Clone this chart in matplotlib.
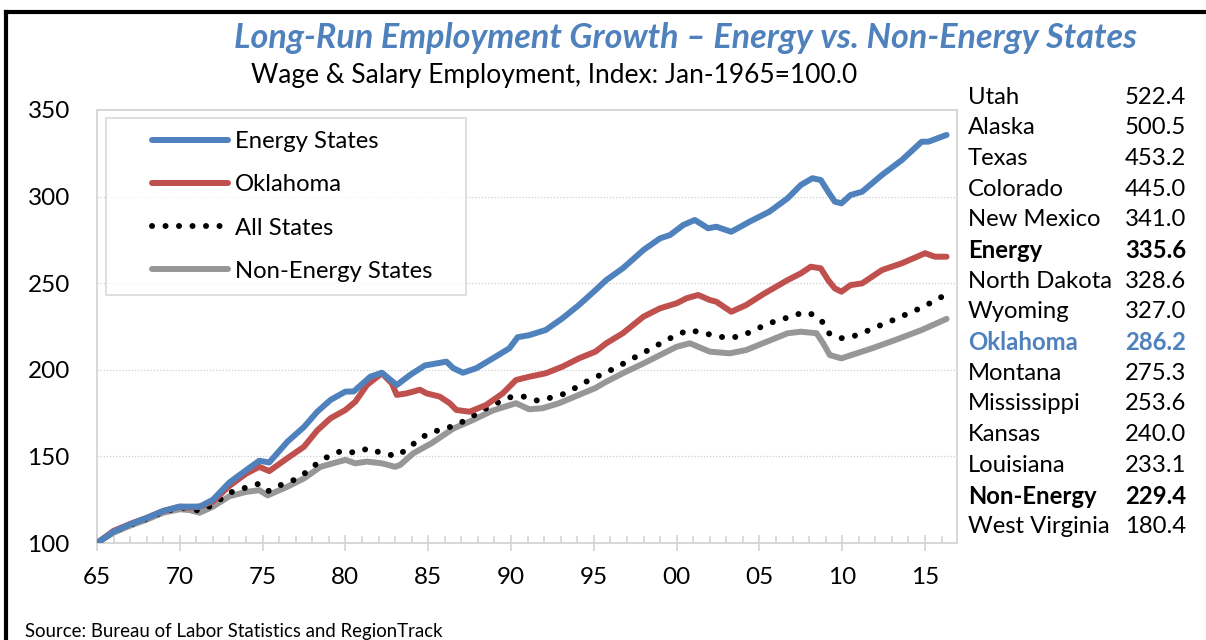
import matplotlib
matplotlib.use("Agg")
import matplotlib.pyplot as plt
from matplotlib.lines import Line2D
from matplotlib.legend_handler import HandlerLine2D

plt.rcParams['font.family'] = ['Lato', 'DejaVu Sans']

# readings (year, index value)
energy_x = [1965.0, 1966.0, 1967.0, 1968.0, 1969.0, 1970.0, 1970.6, 1971.2, 1972.0, 1973.0,
            1974.0, 1974.8, 1975.4, 1976.5, 1977.5, 1978.3, 1979.1, 1980.0, 1980.5, 1981.5,
            1982.2, 1983.1, 1983.9, 1984.8, 1986.1, 1986.5, 1987.1, 1987.9, 1988.9, 1989.9,
            1990.4, 1991.1, 1992.1, 1993.1, 1994.1, 1995.1, 1995.75, 1996.75, 1998.0, 1999.0,
            1999.6, 2000.4, 2001.1, 2001.9, 2002.4, 2003.3, 2004.4, 2005.6, 2006.7, 2007.5,
            2008.2, 2008.7, 2009.15, 2009.55, 2009.95, 2010.5, 2011.2, 2012.4, 2013.6, 2014.8,
            2015.2, 2016.3]
energy_y = [100, 106.5, 110.8, 114.5, 118.5, 121, 121, 121, 125, 135,
            142, 147.5, 146.5, 158.5, 167, 175.8, 182.6, 187.4, 187.5, 196,
            198.3, 191.2, 197, 202.5, 204.7, 201, 198.3, 200.9, 206.6, 212.4,
            218.8, 220, 223, 229.7, 237.4, 246, 251.8, 258.6, 269.2, 275.9,
            277.8, 283.6, 286.5, 281.7, 282.6, 279.7, 285.5, 291.3, 299, 306.7,
            310.6, 309.6, 302.8, 297.1, 296.1, 300.9, 302.8, 312.5, 321.1, 331.7,
            331.7, 335.6]

ok_x = [1965.0, 1966.0, 1967.0, 1968.0, 1969.0, 1970.0, 1970.6, 1971.2, 1972.0, 1973.0,
        1974.0, 1974.8, 1975.4, 1976.5, 1977.5, 1978.3, 1979.1, 1980.0, 1980.6, 1981.3,
        1982.2, 1982.8, 1983.1, 1983.7, 1984.5, 1984.9, 1985.7, 1986.3, 1986.7, 1987.5,
        1988.5, 1989.5, 1990.3, 1991.1, 1992.1, 1993.1, 1994.1, 1995.1, 1995.75, 1996.75,
        1998.0, 1999.0, 2000.0, 2000.6, 2001.3, 2002.0, 2002.4, 2003.3, 2004.2, 2005.2,
        2006.7, 2007.5, 2008.1, 2008.7, 2009.15, 2009.55, 2009.95, 2010.5, 2011.2, 2012.4,
        2013.6, 2015.0, 2015.6, 2016.3]
ok_y = [100, 107, 111, 114.5, 118.5, 121, 120.5, 121, 124, 133,
        140, 144, 141.5, 149, 155.6, 165, 172, 176.8, 181.6, 191.2,
        198, 192.2, 185.5, 186.4, 188.5, 186.4, 184.5, 180.7, 176.8, 175.8,
        179.7, 186.4, 194.1, 196, 198, 201.8, 206.6, 210.5, 215.3, 221.1,
        230.7, 235.5, 238.4, 241.3, 243.2, 240.3, 239.3, 233.5, 237.4, 243.5,
        251.8, 255.7, 259.5, 258.6, 251.8, 247, 245.1, 248.9, 249.9, 257.6,
        261.5, 267.3, 265.3, 265.3]

all_x = [1965.0, 1966.0, 1967.0, 1968.0, 1969.0, 1970.0, 1970.6, 1971.2, 1972.0, 1973.0,
         1974.0, 1974.7, 1975.3, 1976.1, 1976.9, 1977.6, 1978.3, 1979.0, 1979.8, 1980.6,
         1981.4, 1982.2, 1983.1, 1983.8, 1984.5, 1985.2, 1986.1, 1986.9, 1987.7, 1988.4,
         1989.2, 1989.9, 1990.8, 1991.6, 1992.5, 1993.3, 1994.0, 1994.8, 1995.55, 1996.26,
         1997.0, 1997.8, 1998.5, 1999.2, 2000.0, 2000.75, 2001.55, 2002.4, 2003.2, 2004.05,
         2004.8, 2005.55, 2006.4, 2007.2, 2008.0, 2008.75, 2009.2, 2009.9, 2010.6, 2011.4,
         2012.2, 2013.0, 2014.6, 2015.35, 2016.1]
all_y = [100, 106.5, 110.5, 114, 118, 120.5, 120, 118.5, 122, 129,
         132, 134, 129.8, 133.5, 136.4, 140.6, 146, 150.2, 153.3, 152.1,
         154.7, 151.8, 150.2, 154.7, 160.4, 164, 166.2, 169.1, 173.3, 177.2,
         181, 184.1, 184.5, 182.2, 184.1, 186.4, 190.2, 194.5, 197.6, 200.9,
         204.7, 208.9, 212.4, 216.2, 220.1, 223, 221.4, 219.5, 218.2, 220.1,
         223.4, 226.8, 229.2, 232, 233, 228.4, 221.1, 218.2, 219.1, 222,
         225.3, 228.4, 235.1, 238.7, 242.6]

non_x = [1965.0, 1966.0, 1967.0, 1968.0, 1969.0, 1970.0, 1970.6, 1971.2, 1972.0, 1973.0,
         1974.0, 1974.8, 1975.3, 1976.5, 1977.5, 1978.5, 1980.0, 1980.6, 1981.3, 1982.2,
         1983.0, 1983.3, 1984.1, 1985.2, 1986.5, 1987.7, 1988.9, 1990.3, 1991.1, 1991.9,
         1992.9, 1994.1, 1995.1, 1995.75, 1996.75, 1998.0, 1999.0, 2000.0, 2000.8, 2002.0,
         2003.2, 2004.2, 2005.2, 2005.7, 2006.7, 2007.5, 2008.45, 2008.85, 2009.25, 2009.95,
         2010.55, 2011.8, 2013.2, 2014.8, 2016.3]
non_y = [100, 106, 110, 113.5, 117.5, 119.5, 119, 117.5, 121, 127,
         129.5, 130.5, 127.5, 132.5, 137.3, 144, 148, 146, 147, 146,
         144, 145, 151.8, 157.6, 166, 171, 176.5, 180.7, 177.2, 177.8,
         180.7, 185.5, 189.5, 193.1, 198, 203.7, 208.5, 213.3, 215.3, 210.5,
         209.5, 211.4, 215.3, 217.2, 221.1, 222, 221.1, 215.3, 208.5, 206.6,
         208.5, 212.4, 217.2, 223, 229.4]

states = ['Utah', 'Alaska', 'Texas', 'Colorado', 'New Mexico', 'Energy', 'North Dakota',
          'Wyoming', 'Oklahoma', 'Montana', 'Mississippi', 'Kansas', 'Louisiana',
          'Non-Energy', 'West Virginia']
state_vals = [522.4, 500.5, 453.2, 445.0, 341.0, 335.6, 328.6, 327.0, 286.2, 275.3,
              253.6, 240.0, 233.1, 229.4, 180.4]

blue = '#4F81BD'
red = '#C0504D'
gray = '#979797'
axis_c = '#D4D4D4'

fig = plt.figure(figsize=(12.06, 6.4), dpi=100)
W, H = 1206, 640
ax = fig.add_axes([97 / W, 1 - 543 / H, (957 - 97) / W, (543 - 110) / H])

ax.plot(non_x, non_y, color=gray, lw=4.3, solid_capstyle='round', label='Non-Energy States', zorder=3)
ax.plot(all_x, all_y, color='black', lw=4.3, linestyle=(0, (0.01, 2.25)),
        dash_capstyle='round', label='All States', zorder=4)
ax.plot(ok_x, ok_y, color=red, lw=4.3, solid_capstyle='round', label='Oklahoma', zorder=5)
ax.plot(energy_x, energy_y, color=blue, lw=4.3, solid_capstyle='round', label='Energy States', zorder=6)

ax.set_xlim(1965, 2016.93)
ax.set_ylim(100, 350)
ax.set_yticks([100, 150, 200, 250, 300, 350])
ax.set_xticks(range(1965, 2016, 5))
ax.set_xticklabels(['65', '70', '75', '80', '85', '90', '95', '00', '05', '10', '15'])
ax.set_xticks(range(1965, 2017), minor=True)
ax.tick_params(axis='y', length=0, labelsize=17.5, pad=19.5)
ax.tick_params(axis='x', which='major', direction='inout', length=12, width=1.2,
               color=axis_c, labelsize=17.5, pad=11)
ax.tick_params(axis='x', which='minor', direction='in', length=5, width=1.2, color=axis_c)
for s in ax.spines.values():
    s.set_color(axis_c)
    s.set_linewidth(1.3)
for v in [150, 200, 250, 300]:
    ax.axhline(v, color='#CFCFCF', lw=0.9, linestyle=(0, (1, 1.5)), zorder=1)

h, l = ax.get_legend_handles_labels()
order = [3, 2, 1, 0]
leg = ax.legend([h[i] for i in order], [l[i] for i in order], loc='upper left',
                bbox_to_anchor=(0.0105, 0.0, 0.4186, 0.9815), mode='expand',
                fontsize=17.2, frameon=True, fancybox=False,
                edgecolor='#D0D0D0', borderpad=0.55, labelspacing=0.93, handlelength=4.56,
                handletextpad=0.3, borderaxespad=0,
                handler_map={Line2D: HandlerLine2D(xpad=1.36)})
leg.get_frame().set_linewidth(1.2)

fig.text(685 / W, 1 - 38 / H, 'Long-Run Employment Growth \u2013 Energy vs. Non-Energy States',
         ha='center', va='center', fontsize=24.6, color=blue, fontweight='bold', style='italic')
fig.text(554 / W, 1 - 76 / H, 'Wage & Salary Employment, Index: Jan-1965=100.0',
         ha='center', va='center', fontsize=19)

for i, (name, val) in enumerate(zip(states, state_vals)):
    y = 1 - (97 + i * 30.7) / H
    c = blue if name == 'Oklahoma' else 'black'
    w = 'bold' if name in ('Energy', 'Non-Energy', 'Oklahoma') else 'normal'
    fig.text(968 / W, y, name, ha='left', va='center', fontsize=17.2, color=c, fontweight=w)
    fig.text(1186 / W, y, f'{val:.1f}', ha='right', va='center', fontsize=17.2, color=c, fontweight=w)

fig.text(25 / W, 1 - 632 / H, 'Source: Bureau of Labor Statistics and RegionTrack',
         ha='left', va='center', fontsize=13.4)

# outer black frame (only left and top edges visible)
fig.add_artist(Line2D([5.5 / W, 5.5 / W], [-0.05, 1 - 12 / H], color='black', lw=3, transform=fig.transFigure))
fig.add_artist(Line2D([5.5 / W, 1.05], [1 - 12 / H, 1 - 12 / H], color='black', lw=3, transform=fig.transFigure))

fig.savefig('out.png', dpi=100)
